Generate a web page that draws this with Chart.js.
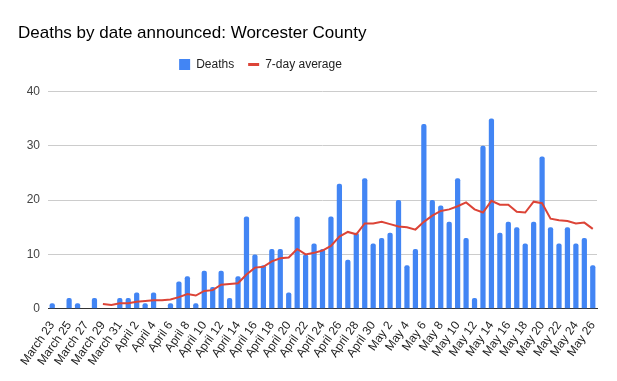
<!DOCTYPE html>
<html>
<head>
<meta charset="utf-8">
<script src="https://cdn.jsdelivr.net/npm/chart.js@4"></script>
<style>
  body { margin: 0; background: #fff; }
  #chart { display: block; }
</style>
</head>
<body>
<canvas id="chart" width="617" height="381"></canvas>
<script>
const days = [
    'March 23', 'March 24', 'March 25', 'March 26', 'March 27', 'March 28', 'March 29', 'March 30', 'March 31',
    'April 1', 'April 2', 'April 3', 'April 4', 'April 5', 'April 6', 'April 7', 'April 8', 'April 9', 'April 10',
    'April 11', 'April 12', 'April 13', 'April 14', 'April 15', 'April 16', 'April 17', 'April 18', 'April 19', 'April 20',
    'April 21', 'April 22', 'April 23', 'April 24', 'April 25', 'April 26', 'April 27', 'April 28', 'April 29', 'April 30',
    'May 1', 'May 2', 'May 3', 'May 4', 'May 5', 'May 6', 'May 7', 'May 8', 'May 9', 'May 10',
    'May 11', 'May 12', 'May 13', 'May 14', 'May 15', 'May 16', 'May 17', 'May 18', 'May 19', 'May 20',
    'May 21', 'May 22', 'May 23', 'May 24', 'May 25', 'May 26'
];

const deaths = [
    1, 0, 2, 1, 0, 2, 0, 0, 2,
    2, 3, 1, 3, 0, 1, 5, 6, 1, 7,
    4, 7, 2, 6, 17, 10, 8, 11, 11, 3,
    17, 10, 12, 11, 17, 23, 9, 14, 24, 12,
    13, 14, 20, 8, 11, 34, 20, 19, 16, 24,
    13, 2, 30, 35, 14, 16, 15, 12, 16, 28,
    15, 12, 15, 12, 13, 8
];

const weekAvg = [
    null, null, null, null, null, null, 0.86, 0.71, 1.0,
    1.0, 1.29, 1.43, 1.57, 1.57, 1.71, 2.14, 2.71, 2.43, 3.29,
    3.43, 4.43, 4.57, 4.71, 6.29, 7.57, 7.71, 8.71, 9.29, 9.43,
    11.0, 10.0, 10.29, 10.71, 11.57, 13.29, 14.14, 13.71, 15.71, 15.71,
    16.0, 15.57, 15.14, 15.0, 14.57, 16.0, 17.14, 18.0, 18.29, 18.86,
    19.57, 18.29, 17.71, 19.86, 19.14, 19.14, 17.86, 17.71, 19.71, 19.43,
    16.57, 16.29, 16.14, 15.71, 15.86, 14.71
];

const yTicks = [0, 10, 20, 30, 40];

const fontFamily = '"Liberation Sans", Arial, sans-serif';

// legend sits a bit left of centre in the original, with extra room below it
const legendTweak = {
    id: 'legendTweak',
    beforeInit(chart) {
        const fit = chart.legend.fit;
        chart.legend.fit = function () {
            fit.call(this);
            this.height += 11;
        };
    },
    afterLayout(chart) {
        chart.legend.left -= 47;
        chart.legend.right -= 47;
    }
};

const ctx = document.getElementById('chart').getContext('2d');
new Chart(ctx, {
    data: {
        labels: days,
        datasets: [
            {
                type: 'line',
                label: '7-day average',
                data: weekAvg,
                borderColor: '#dc4437',
                backgroundColor: '#dc4437',
                borderWidth: 2,
                pointRadius: 0,
                pointStyle: 'line',
                tension: 0,
                order: 1
            },
            {
                type: 'bar',
                label: 'Deaths',
                data: deaths,
                backgroundColor: '#4285f4',
                borderRadius: 2,
                borderSkipped: 'bottom',
                barPercentage: 0.62,
                categoryPercentage: 1.0,
                pointStyle: 'rect',
                order: 2
            }
        ]
    },
    options: {
        responsive: false,
        animation: false,
        layout: { padding: { left: 18, right: 20, top: 4, bottom: 11 } },
        plugins: {
            title: {
                display: true,
                text: 'Deaths by date announced: Worcester County',
                align: 'start',
                color: '#000',
                font: { family: fontFamily, size: 17, weight: 'normal' },
                padding: { top: 19, bottom: 1 }
            },
            legend: {
                position: 'top',
                reverse: true,
                labels: {
                    usePointStyle: true,
                    boxWidth: 11,
                    boxHeight: 11,
                    pointStyleWidth: 11,
                    padding: 14,
                    color: '#222',
                    font: { family: fontFamily, size: 12 },
                    generateLabels: function (chart) {
                        const items = Chart.defaults.plugins.legend.labels.generateLabels(chart);
                        items.forEach(item => {
                            if (item.pointStyle === 'line') item.lineWidth = 3;
                        });
                        return items;
                    }
                }
            },
            tooltip: { enabled: false }
        },
        scales: {
            x: {
                grid: { display: false },
                border: { display: true, color: '#333', width: 1 },
                ticks: {
                    autoSkip: false,
                    maxRotation: 55,
                    minRotation: 55,
                    color: '#222',
                    padding: 2,
                    font: { family: fontFamily, size: 12 },
                    callback: function (value, index) {
                        return index % 2 === 0 ? days[index] : '';
                    }
                }
            },
            y: {
                min: 0,
                max: 40,
                afterBuildTicks: function (scale) {
                    scale.ticks = yTicks.map(v => ({ value: v }));
                },
                afterFit: function (scale) {
                    scale.width = 30;
                },
                grid: { color: '#cccccc', drawTicks: false },
                border: { display: false },
                ticks: {
                    color: '#444',
                    padding: 8,
                    font: { family: fontFamily, size: 12 }
                }
            }
        }
    },
    plugins: [legendTweak]
});
</script>
</body>
</html>
